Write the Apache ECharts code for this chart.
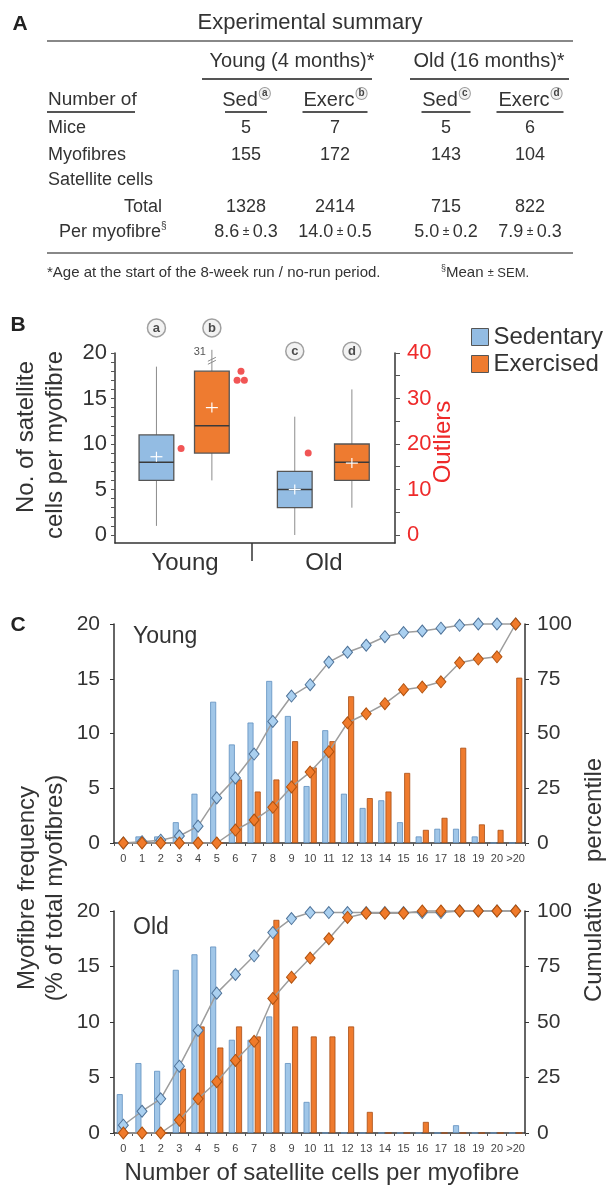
<!DOCTYPE html>
<html>
<head>
<meta charset="utf-8">
<script src="https://cdn.jsdelivr.net/npm/echarts@6/dist/echarts.min.js"></script>
<style>
html, body { margin: 0; padding: 0; background: #fff; }
#main { width: 608px; height: 1185px; }
</style>
</head>
<body>
<div id="main"></div>
<script>
// ---- A: experimental summary table
const groupNames = ['Young (4 months)*', 'Old (16 months)*'];
const colNames = ['Sed', 'Exerc', 'Sed', 'Exerc'];
const colTags = ['a', 'b', 'c', 'd'];
const miceCount = [5, 7, 5, 6];
const fibreCount = [155, 172, 143, 104];
const cellTotal = [1328, 2414, 715, 822];
const cellMean = ['8.6', '14.0', '5.0', '7.9'];
const cellSem = ['0.3', '0.5', '0.2', '0.3'];

// ---- B: box plot, satellite cells per myofibre
const ageGroups = ['Young', 'Old'];
const boxTags = ['a', 'b', 'c', 'd'];
const boxMin = [1, 6, 0, 3];
const boxQ1 = [6, 9, 3, 6];
const boxMedian = [8, 12, 5, 8];
const boxQ3 = [11, 18, 7, 10];
const boxMax = [18.5, 31, 13, 16];
const boxMean = [8.6, 14.0, 5.0, 7.9];
const outlierBox = [0, 1, 1, 1, 2];
const outlierValue = [19, 36, 34, 34, 18];

// ---- C: frequency distributions (% of fibres) and cumulative percentile
const binLabels = ['0', '1', '2', '3', '4', '5', '6', '7', '8', '9', '10', '11', '12', '13', '14', '15', '16', '17', '18', '19', '20', '>20'];
const youngSed = [0, 0.6, 0.6, 1.9, 4.5, 12.9, 9.0, 11.0, 14.8, 11.6, 5.2, 10.3, 4.5, 3.2, 3.9, 1.9, 0.6, 1.3, 1.3, 0.6, 0, 0];
const youngExc = [0, 0, 0, 0, 0, 0, 5.8, 4.7, 5.8, 9.3, 6.9, 9.3, 13.4, 4.1, 4.7, 6.4, 1.2, 2.3, 8.7, 1.7, 1.2, 15.1];
const youngSedCum = [0, 0.6, 1.3, 3.2, 7.7, 20.6, 29.7, 40.6, 55.5, 67.1, 72.3, 82.6, 87.1, 90.3, 94.2, 96.1, 96.8, 98.1, 99.4, 100, 100, 100];
const youngExcCum = [0, 0, 0, 0, 0, 0, 5.9, 10.5, 16.3, 25.6, 32.4, 41.7, 54.9, 59.0, 63.6, 70.0, 71.2, 73.6, 82.3, 84.0, 85.0, 100];
const oldSed = [3.5, 6.3, 5.6, 14.7, 16.1, 16.8, 8.4, 8.4, 10.5, 6.3, 2.8, 0, 0, 0, 0, 0, 0, 0, 0.7, 0, 0, 0];
const oldExc = [0, 0, 0, 5.8, 9.6, 7.7, 9.6, 8.7, 19.2, 9.6, 8.7, 8.7, 9.6, 1.9, 0, 0, 1.0, 0, 0, 0, 0, 0];
const oldSedCum = [3.5, 9.8, 15.4, 30.1, 46.2, 63.0, 71.4, 79.8, 90.3, 96.6, 99.3, 99.3, 99.3, 99.3, 99.3, 99.3, 99.3, 99.3, 100, 100, 100, 100];
const oldExcCum = [0, 0, 0, 5.8, 15.4, 23.1, 32.7, 41.3, 60.6, 70.2, 78.8, 87.5, 97.1, 99.0, 99.0, 99.0, 100, 100, 100, 100, 100, 100];

// layout (not data)
const boxX = [0.74, 1.73, 3.21, 4.23];      // box centres on the 0..5 x scale of panel B
const groupX = [1.25, 3.73];
const dividerX = 2.45;
const outlierDx = [0.44, 0.52, 0.45, 0.58, 0.24];
const tagLevel = [22.75, 22.75, 20.2, 20.2];
const boxSpan = 0.62;

const FONT = '"Liberation Sans", Arial, sans-serif';
const INK = '#333';
const RED = '#ee2a2a';
const boxBlue = '#93bce3', boxOrange = '#ee7b30';
const barBlue = '#a0c6e8', barOrange = '#ef7b2e';

function txt(x, y, text, size, extra, rot) {
	const el = {
		type: 'text', x: x, y: y, silent: true,
		style: Object.assign({ text: text, fontSize: size, fontFamily: FONT, fill: INK, align: 'center', verticalAlign: 'middle' }, extra || {})
	};
	if (rot) el.rotation = rot;
	return el;
}
function rule(x1, x2, y, w, c) {
	return { type: 'line', silent: true, shape: { x1: x1, y1: y, x2: x2, y2: y }, style: { stroke: c, lineWidth: w } };
}

// 表格部分
const colX = [246, 335, 446, 530];
const rowY = [128, 155, 180, 207, 232];
const ulW = [42, 65, 49, 67];
const tagRich = { fontSize: 10, fontFamily: FONT, fontWeight: 'bold', fill: '#444', width: 10, height: 11, lineHeight: 11, align: 'center', verticalAlign: 'top', borderRadius: 6, borderWidth: 1, borderColor: '#999', backgroundColor: '#f2f2f2' };
const graphics = [];
graphics.push(txt(20, 24, 'A', 21, { fontWeight: 'bold', fill: '#222' }));
graphics.push(txt(18, 325, 'B', 21, { fontWeight: 'bold', fill: '#222' }));
graphics.push(txt(18, 625, 'C', 21, { fontWeight: 'bold', fill: '#222' }));
graphics.push(txt(310, 23, 'Experimental summary', 22));
graphics.push(rule(47, 573, 41, 2, '#888'));
graphics.push(txt(292, 61, groupNames[0], 20));
graphics.push(txt(489, 61, groupNames[1], 20));
graphics.push(rule(202, 372, 79, 2, '#555'));
graphics.push(rule(410, 569, 79, 2, '#555'));
graphics.push(txt(48, 100, 'Number of', 19, { align: 'left' }));
graphics.push(rule(47, 135, 112, 2, '#555'));
colNames.forEach(function (n, i) {
	graphics.push(txt(colX[i], 100, '{t|' + n + '}{c|' + colTags[i] + '}', 20, {
		rich: { t: { fontSize: 20, fontFamily: FONT, fill: INK, lineHeight: 24, padding: [0, 2, 0, 0] }, c: tagRich }
	}));
	graphics.push(rule(colX[i] - ulW[i] / 2, colX[i] + ulW[i] / 2, 112, 2, '#555'));
	graphics.push(txt(colX[i], rowY[0], String(miceCount[i]), 18));
	graphics.push(txt(colX[i], rowY[1], String(fibreCount[i]), 18));
	graphics.push(txt(colX[i], rowY[3], String(cellTotal[i]), 18));
	graphics.push(txt(colX[i], rowY[4], '{v|' + cellMean[i] + '}{p| ± }{v|' + cellSem[i] + '}', 18, {
		rich: { v: { fontSize: 18, fontFamily: FONT, fill: INK }, p: { fontSize: 12, fontFamily: FONT, fill: INK } }
	}));
});
graphics.push(txt(48, rowY[0], 'Mice', 18, { align: 'left' }));
graphics.push(txt(48, rowY[1], 'Myofibres', 18, { align: 'left' }));
graphics.push(txt(48, rowY[2], 'Satellite cells', 18, { align: 'left' }));
graphics.push(txt(162, rowY[3], 'Total', 18, { align: 'right' }));
graphics.push(txt(59, rowY[4], '{t|Per myofibre}{s|§}', 18, {
	align: 'left',
	rich: { t: { fontSize: 18, fontFamily: FONT, fill: INK, lineHeight: 22 }, s: { fontSize: 10, fontFamily: FONT, fill: INK, verticalAlign: 'top', lineHeight: 10 } }
}));
graphics.push(rule(47, 573, 253, 2, '#888'));
graphics.push(txt(47, 273, '*Age at the start of the 8-week run / no-run period.', 15, { align: 'left' }));
graphics.push(txt(441, 273, '{s|§}{t|Mean }{p|±}{u| SEM.}', 15, {
	align: 'left',
	rich: {
		s: { fontSize: 9, fontFamily: FONT, fill: INK, verticalAlign: 'top', lineHeight: 9 },
		t: { fontSize: 15, fontFamily: FONT, fill: INK, lineHeight: 18 },
		p: { fontSize: 11, fontFamily: FONT, fill: INK },
		u: { fontSize: 13, fontFamily: FONT, fill: INK }
	}
}));

// B 的坐标轴标题
graphics.push(txt(26, 437, 'No. of satellite', 24, {}, Math.PI / 2));
graphics.push(txt(55, 445, 'cells per myofibre', 24, {}, Math.PI / 2));
graphics.push(txt(443, 442, 'Outliers', 24, { fill: RED }, Math.PI / 2));

// C 的标题
graphics.push(txt(27, 888, 'Myofibre frequency', 24, {}, Math.PI / 2));
graphics.push(txt(55, 888, '(% of total myofibres)', 24, {}, Math.PI / 2));
graphics.push(txt(594, 880, 'Cumulative   percentile', 24, {}, Math.PI / 2));
graphics.push(txt(322, 1173, 'Number of satellite cells per myofibre', 24));
graphics.push(txt(133, 637, 'Young', 23, { align: 'left' }));
graphics.push(txt(133, 928, 'Old', 23, { align: 'left' }));

// 箱线图绘制
function renderBox(params, api) {
	const x = api.value(0);
	const lo = api.value(1), q1 = api.value(2), med = api.value(3), q3 = api.value(4), hi = api.value(5), mean = api.value(6);
	const yMax = 20;
	const at = function (v) { return api.coord([x, v]); };
	const bw = api.size([boxSpan, 0])[0];
	const capped = hi > yMax;
	const pLo = at(lo), pQ1 = at(q1), pMed = at(med), pQ3 = at(q3), pMean = at(mean);
	const pHi = at(capped ? yMax + 0.35 : hi);
	const x0 = pQ1[0];
	const wh = { stroke: '#8c8c8c', lineWidth: 1 };
	const kids = [
		{ type: 'line', shape: { x1: x0, y1: pQ3[1], x2: x0, y2: pHi[1] }, style: wh },
		{ type: 'line', shape: { x1: x0, y1: pQ1[1], x2: x0, y2: pLo[1] }, style: wh },
		{ type: 'rect', shape: { x: x0 - bw / 2, y: pQ3[1], width: bw, height: pQ1[1] - pQ3[1] }, style: { fill: api.visual('color'), stroke: '#555', lineWidth: 1.3 } },
		{ type: 'line', shape: { x1: x0 - bw / 2, y1: pMed[1], x2: x0 + bw / 2, y2: pMed[1] }, style: { stroke: '#3a3a3a', lineWidth: 1.6 } },
		{ type: 'line', shape: { x1: x0 - 6, y1: pMean[1], x2: x0 + 6, y2: pMean[1] }, style: { stroke: '#fff', lineWidth: 1.2 } },
		{ type: 'line', shape: { x1: x0, y1: pMean[1] - 5, x2: x0, y2: pMean[1] + 5 }, style: { stroke: '#fff', lineWidth: 1.2 } }
	];
	if (capped) {
		const pB = at(yMax - 0.8);
		kids.push({ type: 'line', shape: { x1: x0 - 4, y1: pB[1] + 1, x2: x0 + 4, y2: pB[1] - 3 }, style: wh });
		kids.push({ type: 'line', shape: { x1: x0 - 4, y1: pB[1] + 4, x2: x0 + 4, y2: pB[1] }, style: wh });
		kids.push({ type: 'text', x: x0 - 6, y: pHi[1] + 2, style: { text: String(hi), align: 'right', verticalAlign: 'middle', fontSize: 11, fontFamily: FONT, fill: '#555' } });
	}
	return { type: 'group', children: kids };
}
function boxData(idx) {
	return idx.map(function (i) { return [boxX[i], boxMin[i], boxQ1[i], boxMedian[i], boxQ3[i], boxMax[i], boxMean[i]]; });
}

function intsTo(n, step) {
	const out = [];
	for (let v = 0; v <= n; v += step) out.push(v);
	return out;
}

const axisLineC = { onZero: false, lineStyle: { color: '#333', width: 1.5 } };
function freqX(grid) {
	return {
		gridIndex: grid, type: 'category', data: binLabels,
		axisLine: axisLineC,
		axisTick: { show: true, interval: 0, length: 3, lineStyle: { color: '#555' } },
		axisLabel: { interval: 0, fontSize: 11, color: '#444', margin: 10 }
	};
}
function freqY(grid) {
	return {
		gridIndex: grid, type: 'value', min: 0, max: 20, interval: 5,
		splitLine: { show: false }, axisLine: { show: true, onZero: false, lineStyle: { color: '#333', width: 1.5 } },
		axisTick: { show: true, length: 4, lineStyle: { color: '#333' } },
		axisLabel: { fontSize: 21, color: INK, margin: 14 }
	};
}
function cumY(grid) {
	return {
		gridIndex: grid, type: 'value', position: 'right', min: 0, max: 100, interval: 25,
		splitLine: { show: false }, axisLine: { show: true, onZero: false, lineStyle: { color: '#333', width: 1.5 } },
		axisTick: { show: true, length: 4, lineStyle: { color: '#333' } },
		axisLabel: { fontSize: 21, color: INK, margin: 12 }
	};
}
function bars(name, data, xi, yi, color, border) {
	return { type: 'bar', name: name, xAxisIndex: xi, yAxisIndex: yi, data: data, barWidth: 6, barGap: '20%', itemStyle: { color: color, borderColor: border, borderWidth: 0.8 } };
}
function cumLine(name, data, xi, yi, fill, border) {
	return {
		type: 'line', name: name, xAxisIndex: xi, yAxisIndex: yi, data: data, clip: false, z: 3,
		symbol: 'diamond', symbolSize: [10, 12],
		lineStyle: { color: '#9d9d9d', width: 1.5 },
		itemStyle: { color: fill, borderColor: border, borderWidth: 1 }
	};
}

const option = {
	animation: false,
	textStyle: { fontFamily: FONT },
	grid: [
		{ left: 115, top: 353, width: 280, height: 190 },
		{ left: 114, top: 624, width: 411, height: 219 },
		{ left: 114, top: 911, width: 411, height: 222 }
	],
	legend: {
		orient: 'vertical', left: 466, top: 320, itemWidth: 17, itemHeight: 17, itemGap: 3, selectedMode: false,
		textStyle: { fontSize: 24, color: INK },
		data: [
			{ name: 'Sedentary', icon: 'rect', itemStyle: { color: boxBlue, borderColor: '#555', borderWidth: 1 } },
			{ name: 'Exercised', icon: 'rect', itemStyle: { color: boxOrange, borderColor: '#555', borderWidth: 1 } }
		]
	},
	xAxis: [
		{
			gridIndex: 0, type: 'value', min: 0, max: 5, splitLine: { show: false },
			axisLine: { onZero: false, lineStyle: { color: '#333', width: 1.5 } },
			axisTick: { show: true, customValues: [dividerX], length: 18, lineStyle: { color: '#333', width: 1.5 } },
			axisLabel: {
				customValues: groupX, fontSize: 24, color: INK, margin: 8,
				formatter: function (v) {
					let k = 0;
					groupX.forEach(function (g, i) { if (Math.abs(g - v) < Math.abs(groupX[k] - v)) k = i; });
					return ageGroups[k];
				}
			}
		},
		freqX(1),
		freqX(2)
	],
	yAxis: [
		{
			gridIndex: 0, type: 'value', min: -0.88, max: 20, splitLine: { show: false },
			axisLine: { show: true, onZero: false, lineStyle: { color: '#333', width: 1.5 } },
			axisTick: { show: true, customValues: intsTo(20, 1), length: 4, lineStyle: { color: '#555' } },
			axisLabel: { customValues: intsTo(20, 5), fontSize: 22, color: INK, margin: 8 }
		},
		{
			gridIndex: 0, type: 'value', position: 'right', min: -1.76, max: 40, splitLine: { show: false },
			axisLine: { show: true, onZero: false, lineStyle: { color: '#333', width: 1.5 } },
			axisTick: { show: true, customValues: intsTo(40, 5), length: 5, lineStyle: { color: '#555' } },
			axisLabel: { customValues: intsTo(40, 10), fontSize: 22, color: RED, margin: 12 }
		},
		freqY(1), cumY(1),
		freqY(2), cumY(2)
	],
	graphic: graphics,
	series: [
		{ type: 'custom', name: 'Sedentary', xAxisIndex: 0, yAxisIndex: 0, renderItem: renderBox, itemStyle: { color: boxBlue }, encode: { x: 0, y: [1, 2, 3, 4, 5, 6] }, data: boxData([0, 2]) },
		{ type: 'custom', name: 'Exercised', xAxisIndex: 0, yAxisIndex: 0, renderItem: renderBox, itemStyle: { color: boxOrange }, encode: { x: 0, y: [1, 2, 3, 4, 5, 6] }, data: boxData([1, 3]) },
		{
			type: 'scatter', name: 'Outliers', xAxisIndex: 0, yAxisIndex: 1, symbolSize: 7, clip: false,
			itemStyle: { color: RED },
			data: outlierValue.map(function (v, i) { return [boxX[outlierBox[i]] + outlierDx[i], v]; })
		},
		{
			type: 'scatter', name: 'tags', xAxisIndex: 0, yAxisIndex: 0, symbolSize: 18, clip: false, z: 5,
			itemStyle: { color: '#efefef', borderColor: '#8a8a8a', borderWidth: 1.5 },
			label: { show: true, position: 'inside', formatter: function (p) { return boxTags[p.dataIndex]; }, fontSize: 13, fontWeight: 'bold', color: '#222' },
			data: boxX.map(function (x, i) { return [x, tagLevel[i]]; })
		},
		bars('Sedentary', youngSed, 1, 2, barBlue, '#5f8fbf'),
		bars('Exercised', youngExc, 1, 2, barOrange, '#a84e14'),
		cumLine('Sedentary cumulative', youngSedCum, 1, 3, '#aad0f0', '#4f7399'),
		cumLine('Exercised cumulative', youngExcCum, 1, 3, '#f07a2a', '#b0520f'),
		bars('Sedentary', oldSed, 2, 4, barBlue, '#5f8fbf'),
		bars('Exercised', oldExc, 2, 4, barOrange, '#a84e14'),
		cumLine('Sedentary cumulative', oldSedCum, 2, 5, '#aad0f0', '#4f7399'),
		cumLine('Exercised cumulative', oldExcCum, 2, 5, '#f07a2a', '#b0520f')
	]
};

const chart = echarts.init(document.getElementById('main'));
chart.setOption(option);
</script>
</body>
</html>
